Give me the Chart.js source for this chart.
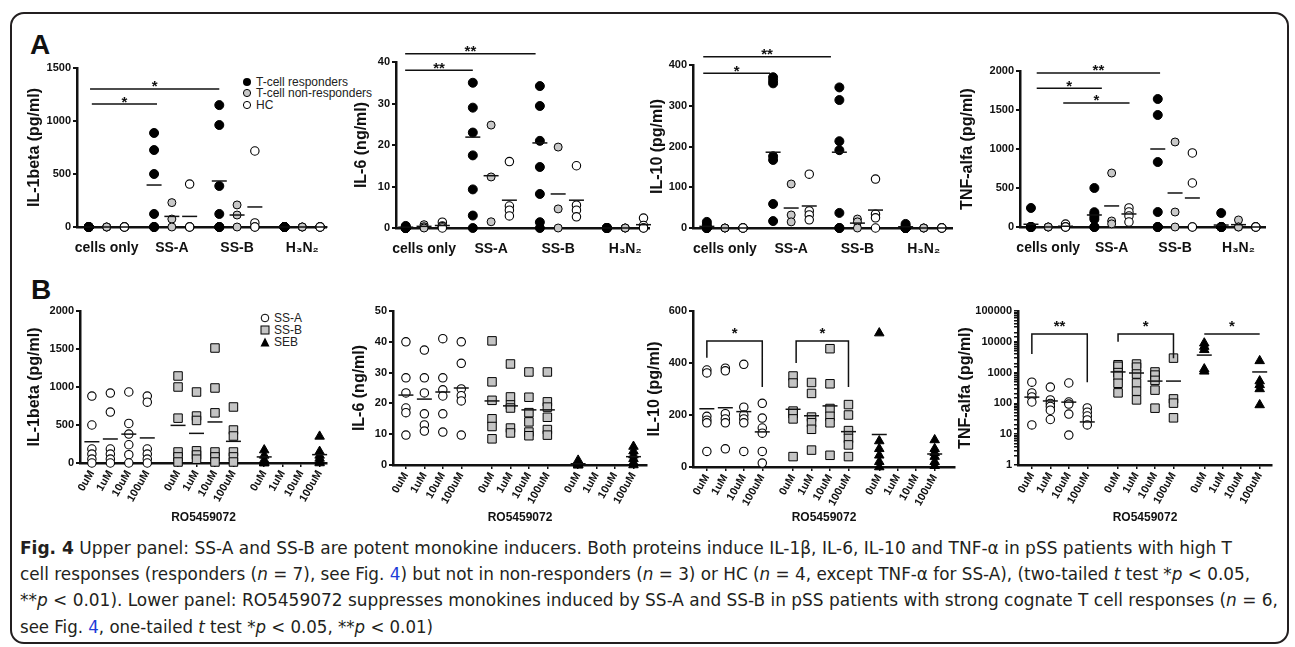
<!DOCTYPE html>
<html>
<head>
<meta charset="utf-8">
<title>Fig. 4</title>
<script src="https://cdn.jsdelivr.net/npm/chart.js@4.4.1/dist/chart.umd.min.js"></script>
<style>
  body { margin: 0; background: #fff; }
  #page { position: relative; width: 1295px; height: 647px; overflow: hidden; background: #fff; }
  #frame { position: absolute; left: 10px; top: 12px; width: 1279px; height: 632px; border: 2px solid #231f20; border-radius: 14px; box-sizing: border-box; }
  canvas { position: absolute; }
  .letter { position: absolute; font: bold 28px/28px "Liberation Sans", Arial, sans-serif; color: #111; }
  .legend { position: absolute; font: 12px/12px "Liberation Sans", Arial, sans-serif; color: #222; }
  .legend div { display: flex; align-items: center; white-space: nowrap; }
  .legend svg { margin-right: 4px; }
  .cap { position: absolute; left: 20px; white-space: nowrap; font: 17px/26px "Liberation Sans Narrow", "DejaVu Sans Condensed", "Liberation Sans", sans-serif; font-stretch: condensed; color: #231f20; transform-origin: 0 50%; }
  .cap a { color: #1e3cd8; text-decoration: none; }
</style>
</head>
<body>
<div id="page">
  <div id="frame"></div>
  <div class="letter" style="left:30px;top:31px">A</div>
  <div class="letter" style="left:31px;top:276px">B</div>

  <div class="legend" style="left:242px;top:76px">
    <div style="height:11.5px"><svg width="10" height="10"><circle cx="5" cy="5" r="4" fill="#000"/></svg>T-cell responders</div>
    <div style="height:11.5px"><svg width="10" height="10"><circle cx="5" cy="5" r="3.6" fill="#c8c8c8" stroke="#000" stroke-width="1"/></svg>T-cell non-responders</div>
    <div style="height:11.5px"><svg width="10" height="10"><circle cx="5" cy="5" r="3.6" fill="#fff" stroke="#000" stroke-width="1"/></svg>HC</div>
  </div>
  <div class="legend" style="left:260px;top:312px">
    <div style="height:12px"><svg width="10" height="10"><circle cx="5" cy="5" r="3.8" fill="#fff" stroke="#000" stroke-width="1"/></svg>SS-A</div>
    <div style="height:12px"><svg width="10" height="10"><rect x="1" y="1" width="8" height="8" fill="#c4c4c4" stroke="#000" stroke-width="1"/></svg>SS-B</div>
    <div style="height:12px"><svg width="10" height="10"><polygon points="5,0.5 9.5,9.5 0.5,9.5" fill="#000"/></svg>SEB</div>
  </div>

  <div class="cap" style="top:535px" data-w="1212"><b>Fig. 4</b> Upper panel: SS-A and SS-B are potent monokine inducers. Both proteins induce IL-1β, IL-6, IL-10 and TNF-α in pSS patients with high T</div>
  <div class="cap" style="top:561px" data-w="1230">cell responses (responders (<i>n</i> = 7), see Fig. <a>4</a>) but not in non-responders (<i>n</i> = 3) or HC (<i>n</i> = 4, except TNF-α for SS-A), (two-tailed <i>t</i> test *<i>p</i> &lt; 0.05,</div>
  <div class="cap" style="top:587px" data-w="1258">**<i>p</i> &lt; 0.01). Lower panel: RO5459072 suppresses monokines induced by SS-A and SS-B in pSS patients with strong cognate T cell responses (<i>n</i> = 6,</div>
  <div class="cap" style="top:614px" data-w="413">see Fig. <a>4</a>, one-tailed <i>t</i> test *<i>p</i> &lt; 0.05, **<i>p</i> &lt; 0.01)</div>
</div>

<script>
// ---- categories / labels ----
const groupsA = ['cells only', 'SS-A', 'SS-B', 'H₃N₂'];
const concLabels = ['0uM', '1uM', '10uM', '100uM'];

// ---- panel A: values per stimulus group (cells only, SS-A, SS-B, H3N2) ----
// IL-1beta (pg/ml)
const il1Resp = [[0, 0, 0, 0, 0, 0, 0], [887, 726, 500, 123, 0, 0, 0], [1150, 962, 387, 123, 0, 0, 0], [0, 0, 0, 0, 0, 0, 0]];
const il1Non = [[0, 0, 0], [230, 75, 0], [208, 113, 0], [0, 0, 0]];
const il1Hc = [[0, 0, 0, 0], [405, 0, 0, 0], [717, 38, 0, 0], [0, 0, 0, 0]];
const il1RespMean = [0, 396, 434, 0];
const il1NonMean = [0, 100, 113, 0];
const il1HcMean = [0, 100, 189, 0];

// IL-6 (ng/ml)
const il6Resp = [[0.5, 0.3, 0, 0, 0, 0, 0], [35, 29, 23, 17.5, 9.3, 3, 0], [34.2, 29.4, 21, 14.7, 8.2, 1.4, 0], [0, 0, 0, 0, 0, 0, 0]];
const il6Non = [[0.8, 0.3, 0], [24.8, 12.3, 1.5], [19.5, 4.6, 0], [0, 0, 0]];
const il6Hc = [[1.4, 0.5, 0.3, 0], [16, 5.3, 4.3, 2.9], [15, 5.5, 4.3, 2.7], [2.4, 0.6, 0, 0]];
const il6RespMean = [0.2, 21.9, 20.5, 0];
const il6NonMean = [0.4, 12.6, 8.2, 0];
const il6HcMean = [0.6, 6.7, 6.7, 0.8];

// IL-10 (pg/ml)
const il10Resp = [[15, 8, 3, 0, 0, 0, 0], [370, 362, 355, 176, 167, 59, 17], [345, 314, 213, 191, 37, 0, 0], [10, 5, 0, 0, 0, 0, 0]];
const il10Non = [[0, 0, 0], [108, 32, 15], [22, 15, 0], [0, 0, 0]];
const il10Hc = [[0, 0, 0, 0], [132, 42, 32, 20], [120, 34, 25, 0], [0, 0, 0, 0]];
const il10RespMean = [4, 186, 186, 3];
const il10NonMean = [0, 49, 12, 0];
const il10HcMean = [0, 54, 44, 0];

// TNF-alfa (pg/ml)
const tnfResp = [[244, 0, 0, 0, 0, 0, 0], [500, 190, 165, 130, 100, 0, 0], [1641, 1436, 833, 192, 0, 0, 0], [179, 0, 0, 0, 0, 0, 0]];
const tnfNon = [[0, 0, 0], [692, 77, 40], [1090, 192, 0], [90, 0, 0]];
const tnfHc = [[38, 0, 0, 0], [244, 192, 141, 64], [949, 564, 0, 0], [0, 0, 0, 0]];
const tnfRespMean = [35, 154, 1000, 25];
const tnfNonMean = [0, 270, 436, 30];
const tnfHcMean = [10, 167, 372, 0];

// ---- panel B: values per RO5459072 dose (0, 1, 10, 100 uM) ----
// IL-1beta (pg/ml)
const b1SsA = [[880, 500, 184, 118, 52, 0], [920, 670, 184, 118, 52, 0], [934, 520, 380, 240, 110, 0], [880, 800, 184, 118, 52, 0]];
const b1SsB = [[1145, 1000, 590, 145, 80, 13], [934, 618, 560, 160, 105, 50], [1513, 987, 660, 145, 80, 13], [737, 434, 355, 145, 80, 13]];
const b1Seb = [[170, 100, 40, 10, 0, 0], [], [], [350, 150, 100, 60, 20, 0]];
const b1SsAMean = [280, 316, 380, 330];
const b1SsBMean = [495, 390, 540, 285];
const b1SebMean = [80, null, null, 110];

// IL-6 (ng/ml)
const b2SsA = [[40, 28.3, 23.4, 18.5, 17, 9.7], [37.3, 28.3, 23.4, 16.6, 13, 11], [41, 28.3, 24.4, 22.4, 16.6, 10.7], [40, 33, 24.7, 22.5, 20.8, 9.7]];
const b2SsB = [[40.3, 27, 21, 15, 12.5, 8.5], [32.8, 22.1, 19.5, 18.5, 12, 10.4], [30.2, 22, 17, 14, 10.7, 9.5], [30.2, 20.5, 18.8, 15.5, 11.5, 9.7]];
const b2Seb = [[1.5, 0.8, 0.5, 0, 0, 0], [], [], [6, 4.5, 3.2, 2, 0.8, 0]];
const b2SsAMean = [22.7, 21.4, 23.7, 25];
const b2SsBMean = [20.8, 19.2, 17.9, 17.9];
const b2SebMean = [0.4, null, null, 2.7];

// IL-10 (pg/ml)
const b3SsA = [[373, 362, 195, 180, 170, 60], [380, 370, 205, 185, 170, 70], [395, 230, 200, 185, 170, 60], [245, 188, 150, 130, 60, 15]];
const b3SsB = [[350, 323, 215, 205, 185, 40], [325, 283, 192, 170, 145, 65], [455, 320, 225, 195, 170, 45], [240, 200, 140, 110, 85, 40]];
const b3Seb = [[515, 100, 70, 45, 20, 0], [], [], [104, 70, 55, 40, 20, 5]];
const b3SsAMean = [224, 228, 213, 135];
const b3SsBMean = [222, 197, 235, 136];
const b3SebMean = [125, null, null, 50];

// TNF-alfa (pg/ml), log axis
const b4SsA = [[490, 218, 162, 111, 20], [340, 130, 100, 80, 60, 30], [460, 111, 95, 45, 9.4], [71, 52, 39, 29, 20]];
const b4SsB = [[1800, 1600, 1000, 800, 450, 220], [1900, 1500, 900, 460, 250, 130], [1050, 830, 560, 270, 70], [2950, 140, 102, 34]];
const b4Seb = [[9000, 7000, 5500, 1300, 1100], [], [], [2400, 530, 400, 295, 89]];
const b4SsAMean = [160, 120, 110, 25];
const b4SsBMean = [1050, 970, 530, 530];
const b4SebMean = [3700, null, null, 1050];

// ---- significance bars (data units) ----
const il1Sig = [{from: 0.5, to: 11.5, y: 1160, text: '*'}, {from: 0.2, to: 22, y: 1302, text: '*'}];
const il6Sig = [{from: -0.1, to: 11, y: 38, text: '**'}, {from: -0.1, to: 21.3, y: 42, text: '**'}];
const il10Sig = [{from: -0.6, to: 10.5, y: 380, text: '*'}, {from: -0.6, to: 20.6, y: 420, text: '**'}];
const tnfSig = [{from: 1, to: 22.4, y: 1975, text: '**'}, {from: 1, to: 12.3, y: 1780, text: '*'}, {from: 5.6, to: 17.1, y: 1590, text: '*'}];
const b3Sig = [{from: 0, to: 9, y: 485, leftEnd: 420, rightEnd: 308, text: '*'}, {from: 14.5, to: 23, y: 485, leftEnd: 400, rightEnd: 308, text: '*'}];
const b4Sig = [{from: 0, to: 9, y: 18000, leftEnd: 4000, rightEnd: 490, text: '**'}, {from: 14, to: 23, y: 18000, leftEnd: 10000, rightEnd: 2950, text: '*'}, {from: 28, to: 37, y: 18000, text: '*'}];

// ---- x positions ----
const xA = (g, s) => g * 11 + s * 3;
const xB = (g, s) => g * 14 + s * 3;

const FONT = '"Liberation Sans", Arial, sans-serif';
Chart.defaults.font.family = FONT;
Chart.defaults.color = '#111';

const meanStyle = {pointStyle: 'line', pointRadius: 7.5, pointBorderColor: '#111', pointBorderWidth: 1.5, pointBackgroundColor: '#111', clip: false};
const blackStyle = {pointStyle: 'circle', pointRadius: 4.5, pointBackgroundColor: '#000', pointBorderColor: '#000', pointBorderWidth: 1, clip: false};
const grayStyle = {pointStyle: 'circle', pointRadius: 4, pointBackgroundColor: '#c8c8c8', pointBorderColor: '#000', pointBorderWidth: 1, clip: false};
const openStyle = {pointStyle: 'circle', pointRadius: 4.2, pointBackgroundColor: '#fff', pointBorderColor: '#000', pointBorderWidth: 1.1, clip: false};
const squareStyle = {pointStyle: 'rect', pointRadius: 6, pointBackgroundColor: '#c4c4c4', pointBorderColor: '#000', pointBorderWidth: 1, clip: false};
const triStyle = {pointStyle: 'triangle', pointRadius: 5.5, pointBackgroundColor: '#000', pointBorderColor: '#000', pointBorderWidth: 1, clip: false};

function panelAData(resp, non, hc, respMean, nonMean, hcMean) {
  const pts = (arr, s) => arr.flatMap((vals, g) => vals.map(v => ({x: xA(g, s), y: v})));
  const means = (arr, s) => arr.map((v, g) => ({x: xA(g, s), y: v}));
  return [
    {data: [...means(respMean, 0), ...means(nonMean, 1), ...means(hcMean, 2)], ...meanStyle},
    {data: pts(resp, 0), ...blackStyle},
    {data: pts(non, 1), ...grayStyle},
    {data: pts(hc, 2), ...openStyle}
  ];
}

function panelBData(ssA, ssB, seb, ssAMean, ssBMean, sebMean) {
  const pts = (arr, g) => arr.flatMap((vals, s) => vals.map(v => ({x: xB(g, s), y: v})));
  const means = (arr, g) => arr.map((v, s) => ({x: xB(g, s), y: v})).filter(p => p.y != null);
  return [
    {data: [...means(ssAMean, 0), ...means(ssBMean, 1), ...means(sebMean, 2)], ...meanStyle},
    {data: pts(ssA, 0), ...openStyle},
    {data: pts(ssB, 1), ...squareStyle},
    {data: pts(seb, 2), ...triStyle}
  ];
}

const sigPlugin = {
  id: 'sig',
  afterDatasetsDraw(chart, args, opts) {
    const ctx = chart.ctx, x = chart.scales.x, y = chart.scales.y;
    ctx.save();
    ctx.strokeStyle = '#111';
    ctx.fillStyle = '#111';
    ctx.lineWidth = 1.5;
    ctx.font = 'bold 15px ' + FONT;
    ctx.textAlign = 'center';
    ctx.textBaseline = 'alphabetic';
    for (const b of opts.bars || []) {
      const x1 = x.getPixelForValue(b.from), x2 = x.getPixelForValue(b.to), yy = y.getPixelForValue(b.y);
      ctx.beginPath();
      ctx.moveTo(x1, b.leftEnd != null ? y.getPixelForValue(b.leftEnd) : yy);
      ctx.lineTo(x1, yy);
      ctx.lineTo(x2, yy);
      ctx.lineTo(x2, b.rightEnd != null ? y.getPixelForValue(b.rightEnd) : yy);
      ctx.stroke();
      ctx.fillText(b.text, (x1 + x2) / 2, yy + opts.lift);
    }
    ctx.restore();
  }
};

const page = document.getElementById('page');

function makeChart(lay, datasets, yCfg, xCfg, bars, lift) {
  const left = Math.round(lay.titleX - 9.6);
  const w = lay.right + 6 - left, h = lay.canvasBottom - lay.canvasTop;
  const canvas = document.createElement('canvas');
  canvas.width = w;
  canvas.height = h;
  canvas.style.left = left + 'px';
  canvas.style.top = lay.canvasTop + 'px';
  canvas.style.width = w + 'px';
  canvas.style.height = h + 'px';
  page.appendChild(canvas);
  yCfg.afterFit = s => { s.width = lay.axisX - left; };
  xCfg.afterFit = s => { s.height = lay.xAxisH; };
  xCfg.min = lay.xMin;
  xCfg.max = lay.xMax;
  new Chart(canvas, {
    type: 'scatter',
    data: {datasets},
    options: {
      responsive: false,
      devicePixelRatio: 1,
      animation: false,
      events: [],
      layout: {padding: {left: 0, right: 6, top: lay.top - lay.canvasTop, bottom: h - (lay.zero - lay.canvasTop) - lay.xAxisH}},
      scales: {x: xCfg, y: yCfg},
      plugins: {legend: {display: false}, tooltip: {enabled: false}, sig: {bars, lift}}
    },
    plugins: [sigPlugin]
  });
}

function yAxis(title, max, step, log) {
  const cfg = {
    type: log ? 'logarithmic' : 'linear',
    min: log ? 1 : 0,
    max,
    border: {display: true, color: '#111', width: 2.5},
    grid: {display: true, drawOnChartArea: false, drawTicks: true, tickLength: 4, color: '#111', lineWidth: 2},
    ticks: {font: {size: 11, weight: 'bold'}, color: '#111', padding: 2, autoSkip: false, callback: v => String(v)},
    title: {display: true, text: title, font: {size: 16, weight: 'bold', lineHeight: 1.2}, color: '#111', padding: 0}
  };
  if (log) {
    cfg.ticks.callback = v => ([1, 10, 100, 1000, 10000, 100000].includes(v) ? String(v) : '');
    cfg.grid.lineWidth = 1.5;
  } else {
    cfg.ticks.stepSize = step;
  }
  return cfg;
}

function xAxisA() {
  return {
    type: 'linear',
    afterBuildTicks: s => { s.ticks = groupsA.map((_, g) => ({value: xA(g, 1)})); },
    border: {display: true, color: '#111', width: 2.5},
    grid: {display: false},
    ticks: {autoSkip: false, minRotation: 0, maxRotation: 0, padding: 5, font: {size: 14, weight: 'bold'}, color: '#111',
      callback: (v, i) => groupsA[i]}
  };
}

function xAxisB() {
  const pos = [];
  for (let g = 0; g < 3; g++) for (let s = 0; s < 4; s++) pos.push(xB(g, s));
  return {
    type: 'linear',
    afterBuildTicks: s => { s.ticks = pos.map(v => ({value: v})); },
    border: {display: true, color: '#111', width: 2.5},
    grid: {display: true, drawOnChartArea: false, drawTicks: true, tickLength: 4, color: '#111', lineWidth: 1.5},
    ticks: {autoSkip: false, minRotation: 60, maxRotation: 60, padding: 1, font: {size: 11, weight: 'bold'}, color: '#111',
      callback: (v, i) => concLabels[i % 4]},
    title: {display: true, text: 'RO5459072', font: {size: 12, weight: 'bold', lineHeight: 1.2}, color: '#111', padding: 0}
  };
}

// ---- layout (page pixels) ----
function layA(titleX, axisX, right, top, zero, xMin, xMax) {
  return {titleX, axisX, right, top, zero, xMin, xMax, canvasTop: 30, xAxisH: 30, canvasBottom: zero + 32};
}
function layB(titleX, axisX, right, top, zero, xMin, xMax) {
  const titleY = 518;
  return {titleX, axisX, right, top, zero, xMin, xMax, canvasTop: 285, xAxisH: titleY + 7.2 - zero, canvasBottom: titleY + 12};
}

makeChart(layA(35, 77, 329, 68, 227, -2, 40), panelAData(il1Resp, il1Non, il1Hc, il1RespMean, il1NonMean, il1HcMean),
  yAxis('IL-1beta (pg/ml)', 1500, 500), xAxisA(), il1Sig, 2.5);
makeChart(layA(362, 396, 652, 62, 228, -1.6, 39.9), panelAData(il6Resp, il6Non, il6Hc, il6RespMean, il6NonMean, il6HcMean),
  yAxis('IL-6 (ng/ml)', 40, 10), xAxisA(), il6Sig, 2.5);
makeChart(layA(658, 693, 955, 65, 228, -2.3, 40.7), panelAData(il10Resp, il10Non, il10Hc, il10RespMean, il10NonMean, il10HcMean),
  yAxis('IL-10 (pg/ml)', 400, 100), xAxisA(), il10Sig, 2.5);
makeChart(layA(968, 1020, 1268, 71, 227, -1.9, 40.6), panelAData(tnfResp, tnfNon, tnfHc, tnfRespMean, tnfNonMean, tnfHcMean),
  yAxis('TNF-alfa (pg/ml)', 2000, 500), xAxisA(), tnfSig, 2.5);

makeChart(layB(35, 80, 330, 311, 463, -1.93, 38.2), panelBData(b1SsA, b1SsB, b1Seb, b1SsAMean, b1SsBMean, b1SebMean),
  yAxis('IL-1beta (pg/ml)', 2000, 500), xAxisB(), [], 0);
makeChart(layB(360, 393, 650, 311, 465, -2.1, 39.2), panelBData(b2SsA, b2SsB, b2Seb, b2SsAMean, b2SsBMean, b2SebMean),
  yAxis('IL-6 (ng/ml)', 50, 10), xAxisB(), [], 0);
makeChart(layB(655, 693, 958, 311, 467, -2.25, 40.3), panelBData(b3SsA, b3SsB, b3Seb, b3SsAMean, b3SsBMean, b3SebMean),
  yAxis('IL-10 (pg/ml)', 600, 200), xAxisB(), b3Sig, -3);
makeChart(layB(966, 1018, 1275, 311, 465, -2.25, 39), panelBData(b4SsA, b4SsB, b4Seb, b4SsAMean, b4SsBMean, b4SebMean),
  yAxis('TNF-alfa (pg/ml)', 100000, null, true), xAxisB(), b4Sig, -3);

// fit caption lines to the reference line lengths
document.querySelectorAll('.cap').forEach(el => {
  const w = el.getBoundingClientRect().width;
  el.style.transform = 'scaleX(' + (el.dataset.w / w) + ')';
});
</script>
</body>
</html>
